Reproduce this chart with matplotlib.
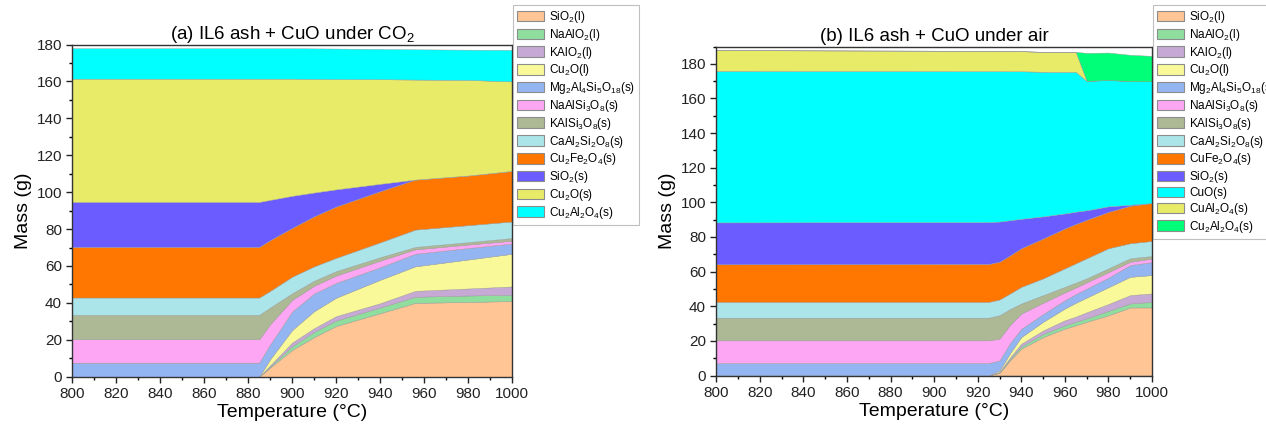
# equilibrium phase mass vs temperature, IL6 ash + CuO

import matplotlib
matplotlib.use("Agg")
import matplotlib.pyplot as plt
from matplotlib.patches import Patch
from matplotlib.ticker import MultipleLocator

plt.rcParams['font.family'] = ['Liberation Sans', 'DejaVu Sans']
plt.rcParams['mathtext.default'] = 'regular'

# ---- panel (a): under CO2 ----
temp_a = [800, 885, 890, 900, 910, 920, 940, 956, 980, 1000]
labels_a = ['SiO$_2$(l)', 'NaAlO$_2$(l)', 'KAlO$_2$(l)', 'Cu$_2$O(l)',
            'Mg$_2$Al$_4$Si$_5$O$_{18}$(s)', 'NaAlSi$_3$O$_8$(s)', 'KAlSi$_3$O$_8$(s)',
            'CaAl$_2$Si$_2$O$_8$(s)', 'Cu$_2$Fe$_2$O$_4$(s)', 'SiO$_2$(s)', 'Cu$_2$O(s)',
            'Cu$_2$Al$_2$O$_4$(s)']
sio2_l_a = [0, 0, 5.0, 14.5, 21.5, 27.5, 34.4, 40.0, 40.5, 41.0]
naalo2_l_a = [0, 0, 0.6, 2.0, 2.8, 2.9, 3.1, 3.3, 3.5, 3.4]
kalo2_l_a = [0, 0, 0.6, 2.0, 2.0, 2.4, 2.3, 3.2, 3.8, 4.5]
cu2o_l_a = [0, 0, 3.3, 6.8, 9.2, 10.0, 12.7, 13.3, 15.7, 17.7]
mg_a = [7.6, 7.6, 8.0, 10.0, 9.6, 8.0, 6.8, 6.8, 6.2, 5.5]
naalsi_a = [12.7, 12.7, 11.0, 6.3, 4.2, 4.0, 3.6, 2.4, 1.9, 1.6]
kalsi_a = [13.2, 13.2, 9.0, 3.6, 2.7, 2.4, 1.8, 1.3, 1.3, 1.4]
caal_a = [9.4, 9.4, 9.0, 9.0, 7.8, 7.2, 8.1, 9.4, 9.2, 9.0]
cufe_a = [27.4, 27.4, 27.5, 26.4, 27.1, 27.8, 27.7, 27.1, 26.9, 27.4]
sio2_s_a = [24.4, 24.4, 21.8, 17.4, 12.9, 9.3, 4.0, 0, 0, 0]
cu2o_s_a = [66.8, 66.8, 65.7, 63.5, 61.6, 59.8, 56.7, 54.2, 51.8, 48.5]
cu2al_a = [16.5, 16.5, 16.5, 16.5, 16.5, 16.5, 16.4, 16.4, 16.4, 17.1]

# ---- panel (b): under air ----
temp_b = [800, 925, 930, 935, 940, 950, 960, 965, 970, 980, 990, 1000]
labels_b = ['SiO$_2$(l)', 'NaAlO$_2$(l)', 'KAlO$_2$(l)', 'Cu$_2$O(l)',
            'Mg$_2$Al$_4$Si$_5$O$_{18}$(s)', 'NaAlSi$_3$O$_8$(s)', 'KAlSi$_3$O$_8$(s)',
            'CaAl$_2$Si$_2$O$_8$(s)', 'CuFe$_2$O$_4$(s)', 'SiO$_2$(s)', 'CuO(s)',
            'CuAl$_2$O$_4$(s)', 'Cu$_2$Al$_2$O$_4$(s)']
sio2_l_b = [0, 0, 1.5, 9.0, 15.5, 22.2, 27.1, 29.0, 31.0, 34.8, 39.3, 39.3]
naalo2_l_b = [0, 0, 0.3, 0.8, 1.3, 1.8, 1.9, 2.0, 2.0, 2.5, 2.3, 3.2]
kalo2_l_b = [0, 0, 0.3, 0.9, 1.6, 2.0, 2.9, 3.0, 3.5, 4.0, 4.8, 4.9]
cu2o_l_b = [0, 0, 0.8, 2.5, 3.8, 5.0, 6.8, 8.0, 8.5, 9.7, 10.6, 10.6]
mg_b = [7.2, 7.2, 5.8, 5.8, 4.8, 4.5, 4.8, 5.0, 5.2, 5.5, 6.8, 7.5]
naalsi_b = [13.1, 13.1, 12.6, 10.5, 8.8, 6.5, 4.5, 3.8, 3.6, 3.2, 1.9, 2.0]
kalsi_b = [13.1, 13.1, 13.5, 9.0, 5.8, 4.4, 3.2, 2.8, 2.3, 2.2, 2.0, 1.5]
caal_b = [9.1, 9.1, 9.1, 9.0, 9.6, 9.7, 10.7, 11.2, 11.6, 11.6, 8.7, 8.7]
cufe_b = [21.7, 21.9, 21.8, 22.0, 22.3, 23.0, 23.0, 22.7, 22.2, 21.0, 21.6, 21.9]
sio2_s_b = [24.2, 24.2, 23.2, 20.2, 17.0, 12.8, 8.7, 7.1, 5.5, 3.2, 0.6, 0]
cuo_b = [87.5, 87.2, 86.9, 86.0, 85.2, 83.5, 81.7, 80.8, 74.7, 73.0, 71.4, 70.3]
cual2o4_b = [12.0, 11.7, 11.6, 11.6, 11.6, 11.5, 11.5, 11.5, 0, 0, 0, 0]
cu2al_b = [0, 0, 0, 0, 0, 0, 0, 0, 16.2, 15.8, 15.2, 14.7]

colors_a = ['#FFC594', '#8FDE9E', '#C6A9D5', '#F9F99A', '#93B5F2', '#FDA6F4',
            '#ADB894', '#ABE5EA', '#FF7700', '#6A5CFF', '#E8EB67', '#00FFFF']
colors_b = ['#FFC594', '#8FDE9E', '#C6A9D5', '#F9F99A', '#93B5F2', '#FDA6F4',
            '#ADB894', '#ABE5EA', '#FF7700', '#6A5CFF', '#00FFFF', '#E8EB67', '#00FF78']

W, H = 1266, 428
fig = plt.figure(figsize=(W / 100, H / 100), dpi=100)
ax_a = fig.add_axes([72.3 / W, 1 - 376.7 / H, (512 - 72.3) / W, (376.7 - 44.5) / H])
ax_b = fig.add_axes([716.3 / W, 1 - 375.5 / H, (1152 - 716.3) / W, (375.5 - 46.5) / H])

series_a = [sio2_l_a, naalo2_l_a, kalo2_l_a, cu2o_l_a, mg_a, naalsi_a, kalsi_a,
            caal_a, cufe_a, sio2_s_a, cu2o_s_a, cu2al_a]
series_b = [sio2_l_b, naalo2_l_b, kalo2_l_b, cu2o_l_b, mg_b, naalsi_b, kalsi_b,
            caal_b, cufe_b, sio2_s_b, cuo_b, cual2o4_b, cu2al_b]

ax_a.stackplot(temp_a, *series_a, colors=colors_a, edgecolor='#9a9a9a', linewidth=0.3)
ax_b.stackplot(temp_b, *series_b, colors=colors_b, edgecolor='#9a9a9a', linewidth=0.3)

ax_a.set_ylim(0, 180)
ax_b.set_ylim(0, 190)
ax_a.set_title('(a) IL6 ash + CuO under CO$_2$', fontsize=13.5, pad=4)
ax_b.set_title('(b) IL6 ash + CuO under air', fontsize=13.5, pad=4)

for ax in (ax_a, ax_b):
    ax.set_xlim(800, 1000)
    ax.xaxis.set_major_locator(MultipleLocator(20))
    ax.xaxis.set_minor_locator(MultipleLocator(10))
    ax.yaxis.set_major_locator(MultipleLocator(20))
    ax.yaxis.set_minor_locator(MultipleLocator(10))
    ax.tick_params(which='major', direction='out', length=4, width=1, labelsize=11, colors='#222222')
    ax.tick_params(which='minor', direction='out', length=2.5, width=1)
    ax.set_xlabel('Temperature (°C)', fontsize=14, labelpad=2)
    ax.set_ylabel('Mass (g)', fontsize=14, labelpad=3)
    for s in ax.spines.values():
        s.set_linewidth(1)
        s.set_color('#333333')

for ax, cols, labs, x0 in ((ax_a, colors_a, labels_a, 513), (ax_b, colors_b, labels_b, 1153)):
    handles = [Patch(facecolor=c, edgecolor='#8c8c8c', linewidth=0.8) for c in cols]
    leg = ax.legend(handles, labs, loc='upper left', bbox_to_anchor=(x0 / W, 1 - 5 / H),
                    bbox_transform=fig.transFigure, fontsize=8.5, frameon=True, fancybox=False,
                    handlelength=2.3, handleheight=1.0, handletextpad=0.4, labelspacing=0.15,
                    borderpad=0.35, borderaxespad=0)
    leg.get_frame().set_edgecolor('#b0b0b0')
    leg.get_frame().set_linewidth(0.8)

fig.savefig('out.png', dpi=100)
